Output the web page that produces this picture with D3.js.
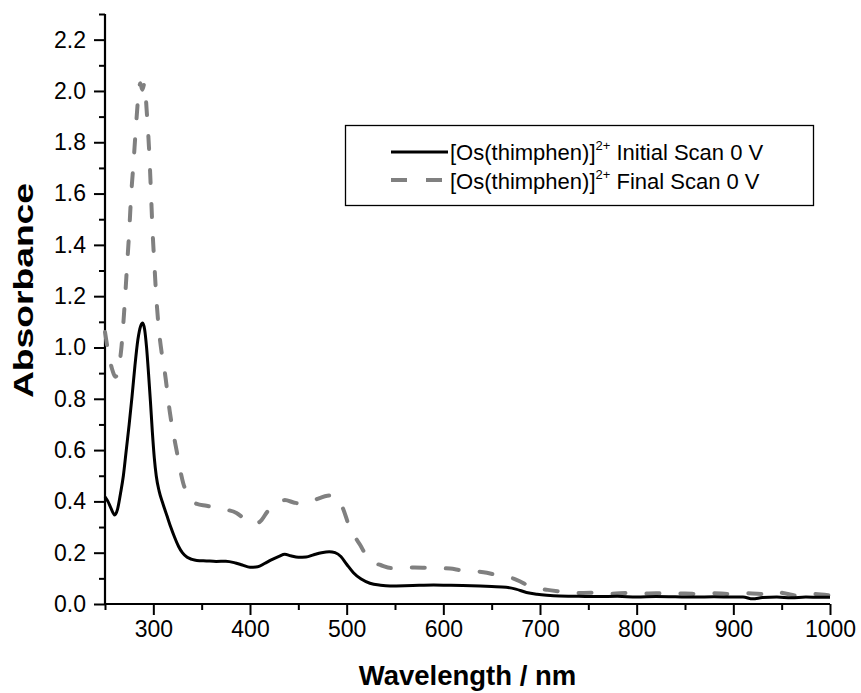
<!DOCTYPE html>
<html>
<head>
<meta charset="utf-8">
<script src="https://cdn.jsdelivr.net/npm/d3@7"></script>
<style>
  html, body { margin: 0; padding: 0; background: #fff; }
  svg text { font-family: "Liberation Sans", Arial, sans-serif; white-space: pre; }
</style>
</head>
<body>
<svg id="chart" width="861" height="693"></svg>
<script>
// UV-Vis absorbance spectra, [Os(thimphen)]2+ at 0 V
const initialWavelength = [250,253,256,260,263,266,269,272,275,278,281,284,287,289,291,293,295,297,299,301,303,306,310,314,318,322,326,330,335,340,345,355,365,375,385,392,400,408,415,422,430,436,442,450,458,466,474,482,488,494,500,507,515,524,535,545,560,575,590,605,620,638,650,665,675,686,697,707,720,740,760,780,800,820,840,860,880,900,910,920,930,945,960,975,990,1000];
const initialAbsorbance = [0.418,0.40,0.375,0.347,0.37,0.43,0.50,0.60,0.70,0.81,0.93,1.03,1.085,1.095,1.07,1.00,0.90,0.79,0.67,0.57,0.50,0.44,0.39,0.345,0.30,0.26,0.225,0.20,0.182,0.174,0.170,0.168,0.166,0.167,0.160,0.152,0.143,0.145,0.158,0.172,0.186,0.194,0.188,0.182,0.183,0.192,0.200,0.204,0.200,0.185,0.155,0.122,0.097,0.081,0.073,0.070,0.071,0.073,0.074,0.073,0.072,0.070,0.068,0.065,0.058,0.045,0.038,0.034,0.031,0.030,0.029,0.030,0.027,0.029,0.028,0.027,0.028,0.027,0.027,0.020,0.025,0.027,0.024,0.027,0.026,0.026];

const finalWavelength = [250,253,257,261,264,267,270,273,275,277,279.5,282,284.5,286.5,288.5,291,293,295.5,297.5,299,301,303,306,309,312,317,324,331,337,345,355,365,375,386,395,403,410,418,426,436,446,455,463,472,480,486,491,496,502,508,514,520,527,535,546,556,570,583,595,607,619,632,645,655,665,672,680,688,698,708,720,731,745,760,775,790,805,820,835,850,865,880,895,910,925,940,947,955,965,975,985,1000];
const finalAbsorbance = [1.06,0.99,0.92,0.886,0.92,1.00,1.15,1.33,1.45,1.59,1.72,1.86,1.98,2.03,2.005,2.03,1.93,1.78,1.61,1.47,1.33,1.20,1.06,0.97,0.90,0.75,0.60,0.47,0.42,0.39,0.383,0.375,0.368,0.355,0.33,0.313,0.32,0.36,0.39,0.405,0.395,0.39,0.40,0.413,0.422,0.423,0.41,0.374,0.31,0.265,0.23,0.19,0.163,0.152,0.140,0.142,0.142,0.141,0.140,0.138,0.131,0.128,0.122,0.113,0.106,0.100,0.087,0.071,0.060,0.055,0.049,0.044,0.043,0.044,0.040,0.043,0.040,0.042,0.039,0.041,0.038,0.042,0.039,0.042,0.040,0.036,0.045,0.040,0.033,0.040,0.039,0.033];

const xMajorTicks = [300,400,500,600,700,800,900,1000];
const xMinorTicks = [250,350,450,550,650,750,850,950];
const yMajorTicks = [0.0,0.2,0.4,0.6,0.8,1.0,1.2,1.4,1.6,1.8,2.0,2.2];
const yMinorTicks = [0.1,0.3,0.5,0.7,0.9,1.1,1.3,1.5,1.7,1.9,2.1,2.3];

const seriesNames = ["Initial Scan 0 V", "Final Scan 0 V"];
const compound = "[Os(thimphen)]";
const charge = "2+";

const svg = d3.select("#chart");
const plotLeft = 105, plotRight = 830, plotTop = 14, plotBottom = 604;

const x = d3.scaleLinear().domain([250, 1000]).range([plotLeft, plotRight]);
const y = d3.scaleLinear().domain([0, 2.3]).range([plotBottom, plotTop]);

const tickFont = "23px";

// x axis: major labelled ticks plus unlabelled minor ticks
const xAxis = d3.axisBottom(x).tickValues(xMajorTicks).tickSize(11).tickPadding(6).tickFormat(d3.format("d"));
const xAxisMinor = d3.axisBottom(x).tickValues(xMinorTicks).tickSize(6).tickFormat("");
const gx = svg.append("g").attr("transform", `translate(0,${plotBottom})`).call(xAxis);
const gxm = svg.append("g").attr("transform", `translate(0,${plotBottom})`).call(xAxisMinor);

const yAxis = d3.axisLeft(y).tickValues(yMajorTicks).tickSize(11).tickPadding(8).tickFormat(d3.format(".1f"));
const yAxisMinor = d3.axisLeft(y).tickValues(yMinorTicks).tickSize(6).tickFormat("");
const gy = svg.append("g").attr("transform", `translate(${plotLeft},0)`).call(yAxis);
const gym = svg.append("g").attr("transform", `translate(${plotLeft},0)`).call(yAxisMinor);

[gx, gxm, gy, gym].forEach(g => {
  g.selectAll(".domain").attr("stroke", "#000").attr("stroke-width", 2.2);
  g.selectAll(".tick line").attr("stroke", "#000").attr("stroke-width", 2);
  g.selectAll(".tick text").attr("fill", "#000").style("font-size", tickFont)
    .style("font-family", "'Liberation Sans', Arial, sans-serif");
});
// plain axis lines without outer tick stubs
gx.select(".domain").attr("d", `M${plotLeft},0H${plotRight}`);
gxm.select(".domain").remove();
gy.select(".domain").attr("d", `M0,${plotBottom}V${plotTop}`);
gym.select(".domain").remove();

// Spectra
const line = d3.line().x(d => x(d[0])).y(d => y(d[1])).curve(d3.curveMonotoneX);
const initialData = initialWavelength.map((w, i) => [w, initialAbsorbance[i]]);
const finalData = finalWavelength.map((w, i) => [w, finalAbsorbance[i]]);

svg.append("path").datum(finalData).attr("d", line)
  .attr("fill", "none").attr("stroke", "#808080").attr("stroke-width", 4)
  .attr("stroke-dasharray", "13,21").attr("stroke-linecap", "round").attr("stroke-linejoin", "round");

svg.append("path").datum(initialData).attr("d", line)
  .attr("fill", "none").attr("stroke", "#000").attr("stroke-width", 3)
  .attr("stroke-linejoin", "round");

// Axis titles
svg.append("text").attr("x", (plotLeft + plotRight) / 2).attr("y", 685)
  .attr("text-anchor", "middle").style("font-size", "27.5px").style("font-weight", "bold")
  .text("Wavelength / nm");

svg.append("text").attr("transform", "translate(33,290.5) rotate(-90)")
  .attr("text-anchor", "middle").style("font-size", "27.5px").style("font-weight", "bold")
  .attr("textLength", 215).attr("lengthAdjust", "spacingAndGlyphs")
  .text("Absorbance");

// Legend
const legend = svg.append("g");
legend.append("rect").attr("x", 345.5).attr("y", 125.5).attr("width", 468).attr("height", 80)
  .attr("fill", "#fff").attr("stroke", "#000").attr("stroke-width", 1.3);

const rows = [
  { name: seriesNames[0], lineY: 152, textY: 160, stroke: "#000", width: 3, dash: null },
  { name: seriesNames[1], lineY: 180, textY: 188.5, stroke: "#808080", width: 4, dash: "16,19" }
];
rows.forEach(r => {
  const l = legend.append("line").attr("x1", 391).attr("x2", 448).attr("y1", r.lineY).attr("y2", r.lineY)
    .attr("stroke", r.stroke).attr("stroke-width", r.width);
  if (r.dash) l.attr("stroke-dasharray", r.dash);
  const t = legend.append("text").attr("x", 450).attr("y", r.textY).style("font-size", "22px").attr("fill", "#000");
  t.append("tspan").text(compound);
  t.append("tspan").attr("dy", -10).style("font-size", "13px").text(charge);
  t.append("tspan").attr("dy", 10).text(" " + r.name);
});
</script>
</body>
</html>
